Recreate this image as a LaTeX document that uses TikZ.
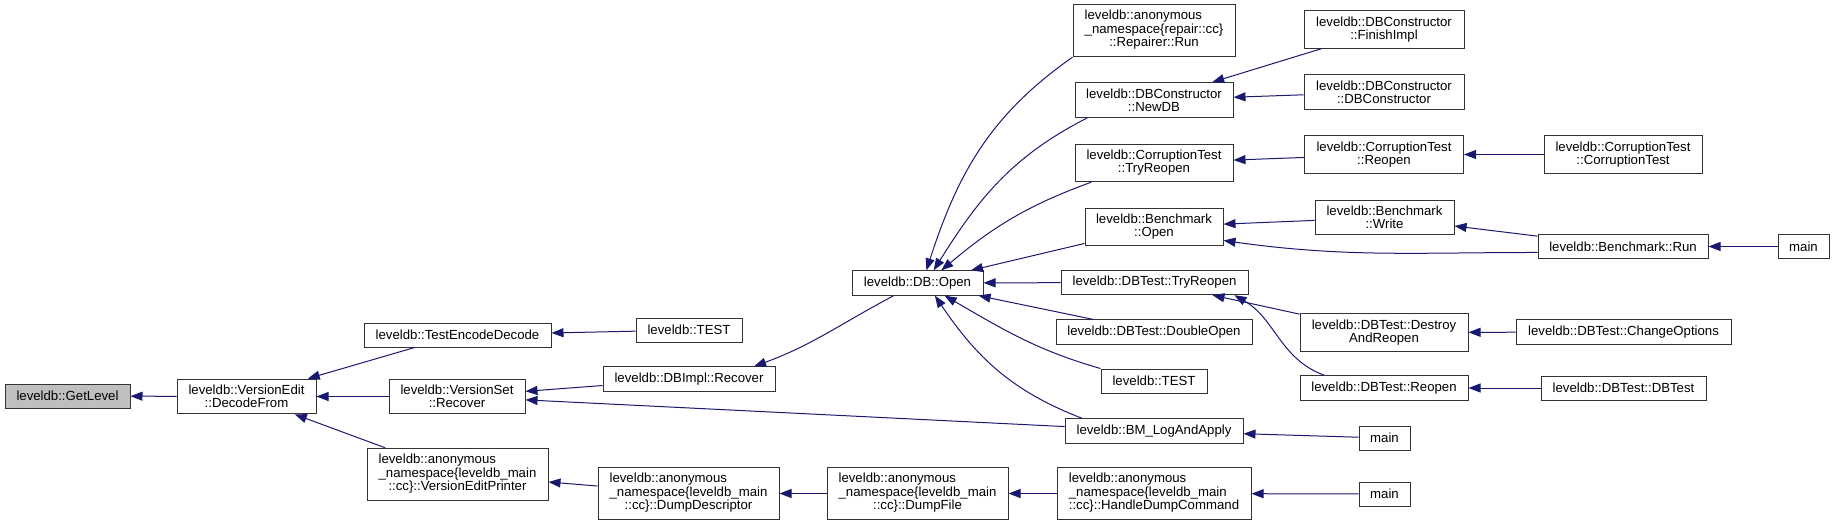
\documentclass[tikz,border=0pt]{standalone}
\usepackage{fontspec}
\setmainfont{Liberation Sans}
\usetikzlibrary{arrows.meta}
\definecolor{callblue}{HTML}{191970}
\newcommand\fnsize{\fontsize{13.2}{13}\selectfont}
\newcommand\threeline[3]{\begin{tabular}{@{}l@{}}#1\\#2\\\multicolumn{1}{@{}c@{}}{#3}\end{tabular}}
\tikzset{
  fn/.style={draw=black!80,fill=white,line width=1pt,align=center,minimum height=24,inner xsep=4,inner ysep=6,font=\fnsize},
  cur/.style={fn,fill=gray!50},
  call/.style={<-,draw=callblue,line width=1pt},
}

\begin{document}
\begin{tikzpicture}[x=1pt,y=1pt,>={Triangle[length=12pt,width=9pt]}]
\useasboundingbox (0,0) rectangle (1834,-525);
\node[cur,minimum width=125] (getlevel) at (67.5,-396) {leveldb::GetLevel};
\node[fn,minimum width=139] (decodefrom) at (246.5,-396.5) {leveldb::VersionEdit\\::DecodeFrom};
\node[fn,minimum width=187] (encdec) at (457.5,-335) {leveldb::TestEncodeDecode};
\node[fn,minimum width=136] (vsrecover) at (457,-396.5) {leveldb::VersionSet\\::Recover};
\node[fn,minimum width=181] (printer) at (457.5,-474.5) {\threeline{leveldb::anonymous}{\_namespace\{leveldb\_main}{::cc\}::VersionEditPrinter}};
\node[fn,minimum width=106] (test1) at (689,-330) {leveldb::TEST};
\node[fn,minimum width=172] (implrecover) at (689,-379) {leveldb::DBImpl::Recover};
\node[fn,minimum width=181] (dumpdesc) at (688.5,-493.5) {\threeline{leveldb::anonymous}{\_namespace\{leveldb\_main}{::cc\}::DumpDescriptor}};
\node[fn,minimum width=131] (dbopen) at (917.5,-283) {leveldb::DB::Open};
\node[fn,minimum width=181] (dumpfile) at (917.5,-493.5) {\threeline{leveldb::anonymous}{\_namespace\{leveldb\_main}{::cc\}::DumpFile}};
\node[fn,minimum width=162] (repairer) at (1154,-30.5) {\threeline{leveldb::anonymous}{\_namespace\{repair::cc\}}{::Repairer::Run}};
\node[fn,minimum width=158] (newdb) at (1154,-100) {leveldb::DBConstructor\\::NewDB};
\node[fn,minimum width=158] (ctryreopen) at (1154,-163) {leveldb::CorruptionTest\\::TryReopen};
\node[fn,minimum width=138] (benchopen) at (1154,-227) {leveldb::Benchmark\\::Open};
\node[fn,minimum width=187] (dbtryreopen) at (1154.5,-282.5) {leveldb::DBTest::TryReopen};
\node[fn,minimum width=196] (doubleopen) at (1154,-332) {leveldb::DBTest::DoubleOpen};
\node[fn,minimum width=106] (test2) at (1154,-381) {leveldb::TEST};
\node[fn,minimum width=178] (bmlog) at (1154,-431) {leveldb::BM\_LogAndApply};
\node[fn,minimum width=194] (handledump) at (1154,-493.5) {\threeline{leveldb::anonymous}{\_namespace\{leveldb\_main}{::cc\}::HandleDumpCommand}};
\node[fn,minimum width=160] (finishimpl) at (1384,-29.5) {leveldb::DBConstructor\\::FinishImpl};
\node[fn,minimum width=160] (dbctor) at (1384,-92) {leveldb::DBConstructor\\::DBConstructor};
\node[fn,minimum width=159] (creopen) at (1384,-154.5) {leveldb::CorruptionTest\\::Reopen};
\node[fn,minimum width=139] (benchwrite) at (1384.5,-217.5) {leveldb::Benchmark\\::Write};
\node[fn,minimum width=168] (destroyreopen) at (1384,-332.5) {leveldb::DBTest::Destroy\\AndReopen};
\node[fn,minimum width=168] (dbtreopen) at (1384,-388) {leveldb::DBTest::Reopen};
\node[fn,minimum width=51] (mainlog) at (1384.5,-438) {main};
\node[fn,minimum width=51] (maindump) at (1384.5,-494) {main};
\node[fn,minimum width=158] (ctest) at (1623,-154.5) {leveldb::CorruptionTest\\::CorruptionTest};
\node[fn,minimum width=170] (benchrun) at (1623,-246.5) {leveldb::Benchmark::Run};
\node[fn,minimum width=215] (changeopts) at (1623.5,-332) {leveldb::DBTest::ChangeOptions};
\node[fn,minimum width=165] (dbtestctor) at (1623.5,-388) {leveldb::DBTest::DBTest};
\node[fn,minimum width=51] (mainbench) at (1803.5,-246.5) {main};

\draw[call] (getlevel) -- (decodefrom);
\draw[call] (decodefrom) -- (encdec);
\draw[call] (decodefrom) -- (vsrecover);
\draw[call] (decodefrom) -- (printer);
\draw[call] (encdec) -- (test1);
\draw[call] (vsrecover) -- (implrecover);
\draw[call] (vsrecover) -- (bmlog);
\draw[call] (printer) -- (dumpdesc);
\draw[call] (dumpdesc) -- (dumpfile);
\draw[call] (dumpfile) -- (handledump);
\draw[call] (handledump) -- (maindump);
\draw[call] (implrecover.11) to[out=20,in=208] (dbopen.208);
\draw[call] (dbopen.55) to[out=72,in=215] (repairer.south west);
\draw[call] (dbopen.38) to[out=58,in=207] (newdb.195);
\draw[call] (dbopen.28) to[out=40,in=200] (ctryreopen.197);
\draw[call] (dbopen) -- (benchopen);
\draw[call] (dbopen) -- (dbtryreopen);
\draw[call] (dbopen) -- (doubleopen);
\draw[call] (dbopen.-25) to[out=-30,in=164] (test2.north west);
\draw[call] (dbopen.-36) to[out=-56,in=159] (bmlog.170);
\draw[call] (bmlog) -- (mainlog);
\draw[call] (newdb) -- (finishimpl);
\draw[call] (newdb) -- (dbctor);
\draw[call] (ctryreopen) -- (creopen);
\draw[call] (creopen) -- (ctest);
\draw[call] (benchopen) -- (benchwrite);
\draw[call] (benchopen.-11) to[out=-8,in=180] (benchrun.184);
\draw[call] (benchwrite) -- (benchrun);
\draw[call] (benchrun) -- (mainbench);
\draw[call] (dbtryreopen) -- (destroyreopen);
\draw[call] (dbtryreopen.-9) to[out=-30,in=160] (dbtreopen.168);
\draw[call] (destroyreopen) -- (changeopts);
\draw[call] (dbtreopen) -- (dbtestctor);
\end{tikzpicture}
\end{document}
